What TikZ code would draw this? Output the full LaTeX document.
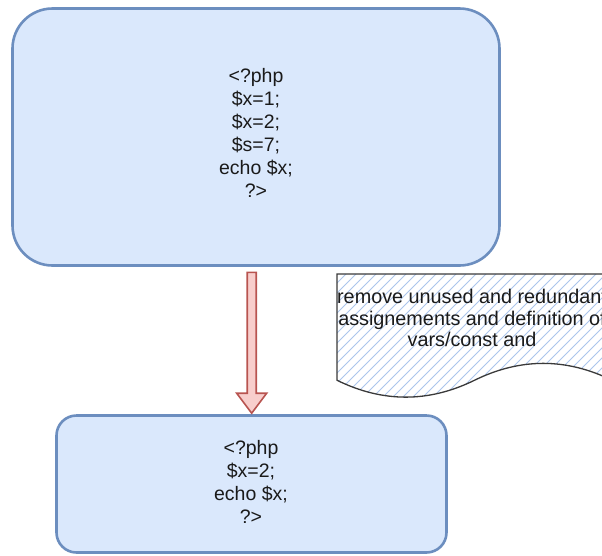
\documentclass[tikz,border=0pt]{standalone}
\usepackage{fontspec}
\setmainfont{Liberation Sans}
\usetikzlibrary{calc}
\definecolor{boxfill}{HTML}{DAE8FC}
\definecolor{boxline}{HTML}{6C8EBF}
\definecolor{arrfill}{HTML}{F8CECC}
\definecolor{arrline}{HTML}{B85450}
\definecolor{hatchline}{HTML}{ABC5EC}
\definecolor{docline}{HTML}{3A3A3A}
\definecolor{textcol}{HTML}{1A1A1A}
\begin{document}
\begin{tikzpicture}[x=1pt,y=-1pt,
  codebox/.style={draw=boxline, fill=boxfill, line width=2.6pt, align=center,
    font=\fontsize{19.5}{23}\selectfont, text=textcol, inner sep=0pt},
  fatarrow/.style={draw=arrline, fill=arrfill, line width=1.6pt, line join=miter},
  docshape/.style={draw=docline, line width=1.3pt},
  doctext/.style={align=center, font=\fontsize{19.8}{21.5}\selectfont, text=textcol, inner sep=0pt},
]
\useasboundingbox (0,0) rectangle (602,555);

% source program box
\node[codebox, rounded corners=40pt, minimum width=487pt, minimum height=257pt] (src) at (256,137) {};
\node[codebox, draw=none, fill=none] (srctext) at (256,133)
  {<?php\\ \$x=1;\\ \$x=2;\\ \$s=7;\\ echo \$x;\\ ?>};

% optimised program box
\node[codebox, rounded corners=20pt, minimum width=390pt, minimum height=137pt] (dst) at (251.5,484) {};
\node[codebox, draw=none, fill=none] (dsttext) at (251,482)
  {<?php\\ \$x=2;\\ echo \$x;\\ ?>};

% fat arrow from the source box to the optimised box
\coordinate (as) at ($(src.south)+(-4.3,5.5)$);
\coordinate (ae) at ($(dst.north)+(0.2,-1)$);
\draw[fatarrow] ($(as)+(-4.5,0)$) -- ($(as)+(4.5,0)$) -- ($(ae)+(4.5,-20)$)
  -- ($(ae)+(15,-20)$) -- (ae) -- ($(ae)+(-15,-20)$) -- ($(ae)+(-4.5,-20)$) -- cycle;

% note with a wavy lower edge, hatched
\def\docpath{(337,274) -- (612,274) -- (612,380.25)
  .. controls (566.17,357.75) and (520.33,357.75) .. (474.5,380.25)
  .. controls (428.67,402.75) and (382.83,402.75) .. (337,380.25) -- cycle}
\fill[white] \docpath;
\begin{scope}
  \clip \docpath;
  \foreach \i in {0,...,46}
    \draw[hatchline, line width=0.9pt] (180+\i*10,420) -- ++(160,-160);
\end{scope}
\draw[docshape] \docpath;
\node[doctext] (note) at (472,318)
  {remove unused and redundant\\ assignements and definition of\\ vars/const and};
\end{tikzpicture}
\end{document}
